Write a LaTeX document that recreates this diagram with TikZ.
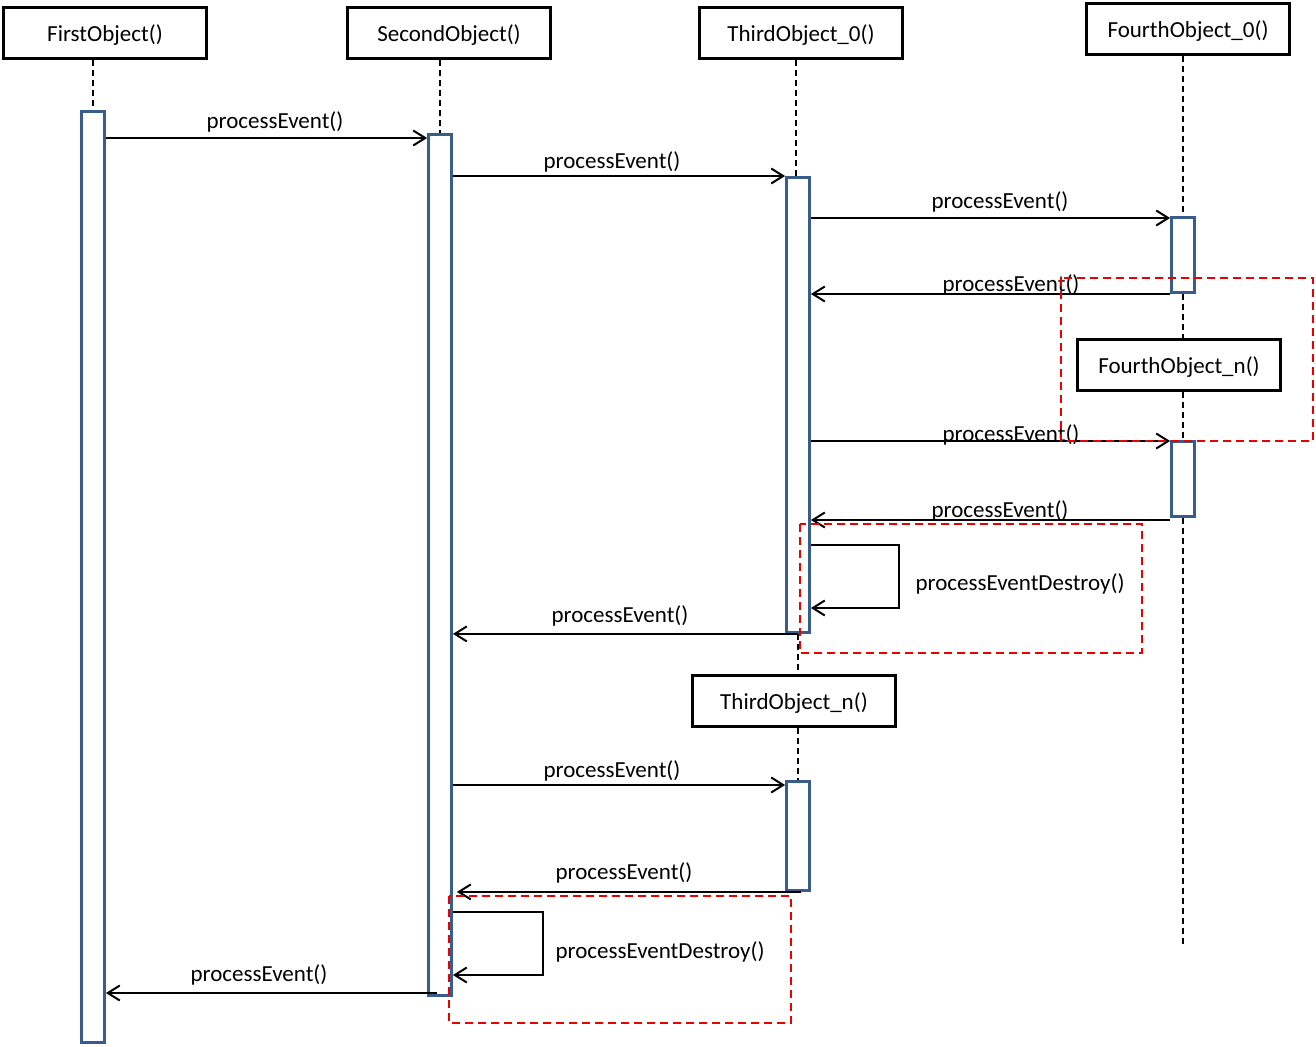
\documentclass[tikz,border=0pt]{standalone}
\usepackage{fontspec}
\setmainfont{Carlito}
\usetikzlibrary{arrows.meta}
\definecolor{actblue}{RGB}{56,93,138}
\definecolor{redbox}{RGB}{235,0,0}
\begin{document}
\begin{tikzpicture}[x=1pt,y=-1pt,
  head/.style={draw, line width=3pt, minimum width=203pt, minimum height=51pt, inner sep=0pt, text height=20pt, text depth=3pt, font=\fontsize{23}{27}\selectfont},
  act/.style={draw=actblue, fill=white, line width=2.8pt, minimum width=23pt, inner sep=0pt},
  life/.style={line width=2pt, dash pattern=on 6pt off 4pt},
  msg/.style={line width=2pt, -{Straight Barb[length=12pt,width=15pt,line width=2pt]}},
  self/.style={line width=2pt, -{Straight Barb[length=12pt,width=15pt,line width=2pt]}},
  lbl/.style={font=\fontsize{23}{27}\selectfont, inner sep=0pt, text height=20pt, text depth=3pt},
  frame/.style={draw=redbox, line width=1.8pt, dash pattern=on 8pt off 5pt}]
\useasboundingbox (0,0) rectangle (1316,1046);

% heads
\node[head] (h1) at (105,33) {FirstObject()};
\node[head] (h2) at (449,33) {SecondObject()};
\node[head] (h3) at (801,33) {ThirdObject\_0()};
\node[head] (h4) at (1188,29) {FourthObject\_0()};
\node[head] (h4n) at (1179,364.5) {FourthObject\_n()};
\node[head] (h3n) at (794,700.5) {ThirdObject\_n()};

\coordinate (end4) at (1183,945);

% activation positions
\path (93,577) coordinate (p1) (440,565) coordinate (p2) (798,405) coordinate (p3)
      (1183,255) coordinate (p4) (1183,479) coordinate (p4n) (798,836) coordinate (p3n);

% lifelines
\draw[life] (p1 |- h1.south) -- (p1 |- 0,110);
\draw[life] (p2 |- h2.south) -- (p2 |- 0,133);
\draw[life] (796,0 |- h3.south) -- (796,176);
\draw[life] (p3 |- 0,634) -- (p3 |- h3n.north);
\draw[life] (p3n |- h3n.south) -- (p3n |- 0,780);
\draw[life] (p4 |- h4.south) -- (p4 |- 0,216);
\draw[life] (p4 |- 0,294) -- (p4 |- h4n.north);
\draw[life] (p4n |- h4n.south) -- (p4n |- 0,440);
\draw[life] (p4n |- 0,518) -- (end4);

\node[act, minimum height=931pt] (a1) at (p1) {};
\node[act, minimum height=861pt] (a2) at (p2) {};
\node[act, minimum height=455pt] (a3) at (p3) {};
\node[act, minimum height=75pt] (a4) at (p4) {};
\node[act, minimum height=75pt] (a4n) at (p4n) {};
\node[act, minimum height=109pt] (a3n) at (p3n) {};

% messages
\draw[msg] (a1.east |- 0,138) -- (a2.west |- 0,138);
\node[lbl] (l1) at (275,120) {processEvent()};
\draw[msg] (a2.east |- 0,176) -- (a3.west |- 0,176);
\node[lbl] (l2) at (612,160) {processEvent()};
\draw[msg] (a3.east |- 0,218) -- (a4.west |- 0,218);
\node[lbl] (l3) at (1000,200) {processEvent()};
\draw[msg] (a4.west |- 0,294) -- (a3.east |- 0,294);
\node[lbl] (l4) at (1011,283) {processEvent()};
\draw[msg] (a3.east |- 0,441) -- (a4n.west |- 0,441);
\node[lbl] (l5) at (1011,433) {processEvent()};
\draw[msg] (a4n.west |- 0,520) -- (a3.east |- 0,520);
\node[lbl] (l6) at (1000,509) {processEvent()};
\coordinate (s1a) at (899,545);
\coordinate (s1b) at (899,608);
\draw[self] (a3.east |- s1a) -- (s1a) -- (s1b) -- (a3.east |- s1b);
\node[lbl] (l7) at (1020,582) {processEventDestroy()};
\draw[msg] (a3.south) -- (a2.east |- a3.south);
\node[lbl] (l8) at (620,614) {processEvent()};
\draw[msg] (a2.east |- 0,785) -- (a3n.west |- 0,785);
\node[lbl] (l9) at (612,769) {processEvent()};
\draw[msg] ([xshift=3pt]a3n.south) -- ([xshift=4pt]a2.east |- a3n.south);
\node[lbl] (l10) at (624,871) {processEvent()};
\coordinate (s2a) at (543,912);
\coordinate (s2b) at (543,975);
\draw[self] (a2.east |- s2a) -- (s2a) -- (s2b) -- (a2.east |- s2b);
\node[lbl] (l11) at (660,950) {processEventDestroy()};
\draw[msg] ([xshift=-3pt]a2.center |- 0,993) -- (a1.east |- 0,993);
\node[lbl] (l12) at (259,973) {processEvent()};

% red dashed frames
\draw[frame] (1061,278) rectangle (1313,441);
\draw[frame] (800,524) rectangle (1142,653);
\draw[frame] (449,896) rectangle (791,1023);
\end{tikzpicture}
\end{document}
